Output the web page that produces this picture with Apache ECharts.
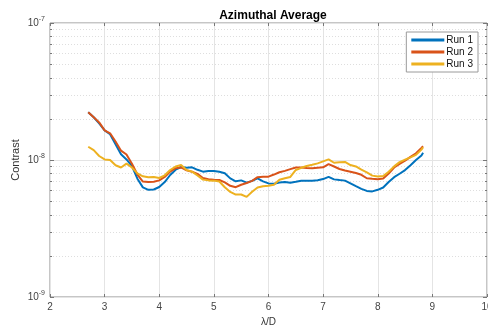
<!DOCTYPE html>
<html>
<head>
<meta charset="utf-8">
<script src="https://cdn.jsdelivr.net/npm/echarts@6/dist/echarts.min.js"></script>
<style>
  html, body { margin: 0; padding: 0; background: #fff; }
  #chart { width: 488px; height: 326px; }
</style>
</head>
<body>
<div id="chart"></div>
<script>
// lambda/D positions
var lambdaD = [2.7, 2.8, 2.9, 3.0, 3.1, 3.2, 3.3, 3.4, 3.5, 3.6,
  3.7, 3.8, 3.9, 4.0, 4.1, 4.2, 4.3, 4.4, 4.5, 4.6,
  4.7, 4.8, 4.9, 5.0, 5.1, 5.2, 5.3, 5.4, 5.5, 5.6,
  5.7, 5.8, 5.9, 6.0, 6.1, 6.2, 6.3, 6.4, 6.5, 6.6,
  6.7, 6.8, 6.9, 7.0, 7.1, 7.2, 7.3, 7.4, 7.5, 7.6,
  7.7, 7.8, 7.9, 8.0, 8.1, 8.2, 8.3, 8.4, 8.5, 8.6,
  8.7, 8.8, 8.83];

// contrast, in units of 1e-9
var run1 = [22.3, 20.5, 18.5, 16.45, 15.4, 13.05, 11.0, 10.1, 9.04, 7.3,
  6.31, 6.06, 6.09, 6.35, 6.9, 7.77, 8.5, 8.89, 8.77, 8.84,
  8.48, 8.22, 8.31, 8.31, 8.2, 8.01, 7.34, 6.99, 7.1, 6.84,
  7.04, 7.34, 6.98, 6.75, 6.72, 6.85, 6.92, 6.82, 6.93, 7.06,
  7.06, 7.06, 7.12, 7.26, 7.54, 7.22, 7.14, 7.07, 6.76, 6.45,
  6.16, 5.95, 5.9, 6.06, 6.3, 6.9, 7.49, 7.94, 8.44, 9.16,
  10.0, 10.8, 11.3];
var run2 = [22.3, 20.5, 18.8, 16.45, 15.66, 13.66, 11.7, 10.97, 9.38, 7.83,
  6.96, 6.9, 6.94, 7.1, 7.52, 8.23, 8.71, 8.83, 8.4, 8.22,
  7.92, 7.39, 7.23, 7.18, 7.14, 6.87, 6.48, 6.33, 6.6, 6.8,
  7.04, 7.49, 7.56, 7.56, 7.83, 8.14, 8.33, 8.58, 8.81, 8.81,
  8.74, 8.7, 8.77, 8.84, 9.32, 8.97, 8.6, 8.38, 8.22, 8.03,
  7.8, 7.36, 7.29, 7.23, 7.32, 7.96, 8.81, 9.37, 9.9, 10.55,
  11.2, 12.25, 12.6];
var run3 = [12.5, 11.8, 10.7, 10.1, 10.0, 9.15, 8.81, 9.4, 8.81, 7.99,
  7.6, 7.48, 7.52, 7.39, 7.73, 8.45, 8.97, 9.19, 8.45, 8.22,
  7.7, 7.19, 7.1, 7.07, 6.97, 6.32, 5.85, 5.59, 5.6, 5.38,
  5.86, 6.3, 6.44, 6.48, 6.6, 7.17, 7.36, 7.52, 8.46, 8.77,
  9.04, 9.22, 9.45, 9.78, 10.1, 9.55, 9.62, 9.68, 9.19, 8.97,
  8.5, 8.13, 7.69, 7.58, 7.63, 8.22, 8.98, 9.65, 10.05, 10.46,
  10.9, 11.9, 12.4];

var runNames = ['Run 1', 'Run 2', 'Run 3'];
var runColors = ['#0072BD', '#D95319', '#EDB120'];

// minor (2..9 x decade) gridline positions
var minorMult = [2, 3, 4, 5, 6, 7, 8, 9];
var decades = [1e-9, 1e-8];

function pairs(ys) {
  return lambdaD.map(function (x, i) { return [x, ys[i] * 1e-9]; });
}

var minorData = [];
decades.forEach(function (d) {
  minorMult.forEach(function (m) { minorData.push([2, m * d]); });
});

var font = 'Liberation Sans, Arial, sans-serif';
var myChart = echarts.init(document.getElementById('chart'));

var option = {
  animation: false,
  title: {
    text: 'Azimuthal Average',
    left: 268, top: 5, textAlign: 'center',
    textStyle: { fontSize: 12, fontWeight: 'bold', color: '#000', fontFamily: font }
  },
  legend: {
    data: runNames,
    orient: 'vertical',
    right: 10, top: 32,
    padding: [3, 5, 3, 5],
    itemGap: 2,
    itemWidth: 33, itemHeight: 3,
    icon: 'rect',
    backgroundColor: '#fff',
    borderColor: '#9a9a9a', borderWidth: 1,
    textStyle: { fontSize: 10, color: '#111', fontFamily: font, padding: [0, 0, 0, -3] }
  },
  grid: {
    left: 50, right: 1, top: 23, bottom: 29,
    outerBoundsMode: 'none',
    containLabel: false,
    show: true, borderColor: '#8c8c8c', borderWidth: 1
  },
  xAxis: [{
    type: 'value', min: 2, max: 10, interval: 1,
    name: 'λ/D', nameLocation: 'middle', nameGap: 20,
    nameTextStyle: { fontSize: 10, color: '#333', fontFamily: font },
    axisLine: { show: false },
    axisTick: { inside: true, length: 3, lineStyle: { color: '#777' } },
    axisLabel: { fontSize: 10, color: '#444', fontFamily: font, margin: 5 },
    splitLine: { show: true, lineStyle: { color: '#e4e4e4', width: 1 } }
  }, {
    type: 'value', min: 2, max: 10, interval: 1, position: 'top',
    axisLine: { show: false },
    axisTick: { inside: true, length: 3, lineStyle: { color: '#777' } },
    axisLabel: { show: false },
    splitLine: { show: false }
  }],
  yAxis: [{
    type: 'log', logBase: 10, min: 1e-9, max: 1e-7,
    name: 'Contrast', nameLocation: 'middle', nameGap: 29,
    nameMoveOverlap: false,
    nameTextStyle: { fontSize: 11, color: '#333', fontFamily: font },
    axisLine: { show: false },
    axisTick: { inside: true, length: 4, lineStyle: { color: '#777' } },
    axisLabel: {
      fontSize: 10, color: '#444', fontFamily: font, margin: 5,
      formatter: function (v) { return '10{s|' + Math.round(Math.log10(v)) + '}'; },
      rich: { s: { fontSize: 7, color: '#444', fontFamily: font, padding: [0, 0, 7, 0] } }
    },
    splitLine: { show: true, lineStyle: { color: '#e4e4e4', width: 1 } }
  }, {
    type: 'log', logBase: 10, min: 1e-9, max: 1e-7, position: 'right',
    axisLine: { show: false },
    axisTick: { inside: true, length: 4, lineStyle: { color: '#777' } },
    axisLabel: { show: false },
    splitLine: { show: false }
  }],
  series: [{
    type: 'custom',
    silent: true,
    z: 1,
    data: minorData,
    renderItem: function (params, api) {
      var v = api.value(1);
      var p0 = api.coord([2, v]);
      var p1 = api.coord([10, v]);
      var y = Math.round(p0[1]) + 0.5;
      return {
        type: 'group',
        children: [{
          type: 'line',
          shape: { x1: p0[0], y1: y, x2: p1[0], y2: y },
          style: { stroke: '#dedede', lineWidth: 1, lineDash: [1, 2] }
        }, {
          type: 'line',
          shape: { x1: p0[0], y1: y, x2: p0[0] + 2, y2: y },
          style: { stroke: '#777', lineWidth: 1 }
        }, {
          type: 'line',
          shape: { x1: p1[0] - 2, y1: y, x2: p1[0], y2: y },
          style: { stroke: '#777', lineWidth: 1 }
        }]
      };
    }
  }].concat([run1, run2, run3].map(function (ys, i) {
    return {
      name: runNames[i],
      type: 'line',
      z: 3 + i,
      data: pairs(ys),
      showSymbol: false,
      symbol: 'none',
      color: runColors[i],
      lineStyle: { width: 2, color: runColors[i] }
    };
  }))
};

myChart.setOption(option);
</script>
</body>
</html>
